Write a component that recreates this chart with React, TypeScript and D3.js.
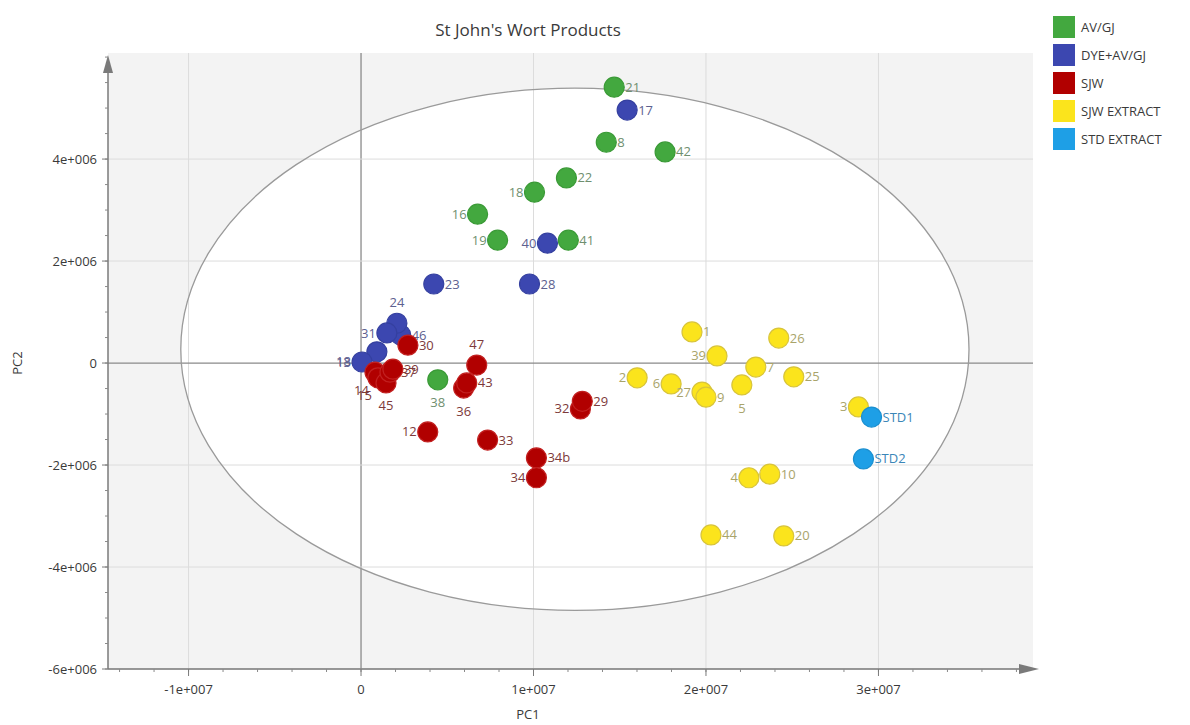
import React from "react";
import * as d3 from "d3";

// ---------- data ----------
const seriesNames = ["AV/GJ", "DYE+AV/GJ", "SJW", "SJW EXTRACT", "STD EXTRACT"];
const seriesFill = ["#43a83f", "#3c47b0", "#b10000", "#fbe41c", "#1e9fe6"];
const seriesStroke = ["#3a9a36", "#3540a0", "#c22020", "#d8c43a", "#1a8fd0"];
const seriesLabelColor = ["#6f8f6f", "#5d6190", "#7d3a3a", "#a9a46a", "#3b86b8"];

// each point: [label, PC1, PC2, label position]
const avgjPoints: [string, number, number, string][] = [
  ["21", 14.68e6, 5.41e6, "r"],
  ["8", 14.22e6, 4.33e6, "r"],
  ["42", 17.63e6, 4.14e6, "r"],
  ["22", 11.91e6, 3.63e6, "r"],
  ["18", 10.06e6, 3.35e6, "l"],
  ["16", 6.76e6, 2.92e6, "l"],
  ["19", 7.92e6, 2.41e6, "l"],
  ["41", 12.02e6, 2.41e6, "r"],
  ["38", 4.45e6, -0.33e6, "b"],
];
const dyePoints: [string, number, number, string][] = [
  ["17", 15.43e6, 4.96e6, "r"],
  ["40", 10.81e6, 2.35e6, "l"],
  ["23", 4.22e6, 1.55e6, "r"],
  ["28", 9.77e6, 1.55e6, "r"],
  ["46", 2.3e6, 0.55e6, "r"],
  ["24", 2.08e6, 0.78e6, "a"],
  ["31", 1.5e6, 0.59e6, "l"],
  ["18", 0.92e6, 0.22e6, "l2"],
  ["13", 0.06e6, 0.02e6, "l"],
];
const sjwPoints: [string, number, number, string][] = [
  ["30", 2.72e6, 0.35e6, "r"],
  ["47", 6.71e6, -0.04e6, "a"],
  ["36", 5.95e6, -0.49e6, "b"],
  ["43", 6.13e6, -0.39e6, "r"],
  ["12", 3.87e6, -1.35e6, "l"],
  ["33", 7.34e6, -1.51e6, "r"],
  ["32", 12.72e6, -0.9e6, "l"],
  ["29", 12.83e6, -0.75e6, "r"],
  ["34b", 10.17e6, -1.86e6, "r"],
  ["34", 10.17e6, -2.25e6, "l"],
  ["14", 0.81e6, -0.18e6, "bl"],
  ["15", 0.98e6, -0.29e6, "bl"],
  ["45", 1.45e6, -0.39e6, "b"],
  ["37", 1.68e6, -0.18e6, "r"],
  ["39", 1.85e6, -0.12e6, "r"],
];
const extractPoints: [string, number, number, string][] = [
  ["1", 19.19e6, 0.61e6, "r"],
  ["39", 20.64e6, 0.14e6, "l"],
  ["26", 24.22e6, 0.49e6, "r"],
  ["7", 22.89e6, -0.08e6, "r"],
  ["25", 25.09e6, -0.27e6, "r"],
  ["2", 16.01e6, -0.29e6, "l"],
  ["6", 17.98e6, -0.41e6, "l"],
  ["27", 19.77e6, -0.57e6, "l"],
  ["9", 20.0e6, -0.67e6, "r"],
  ["5", 22.08e6, -0.43e6, "b"],
  ["3", 28.84e6, -0.86e6, "l"],
  ["4", 22.49e6, -2.25e6, "l"],
  ["10", 23.7e6, -2.18e6, "r"],
  ["44", 20.29e6, -3.37e6, "r"],
  ["20", 24.51e6, -3.39e6, "r"],
];
const stdPoints: [string, number, number, string][] = [
  ["STD1", 29.6e6, -1.06e6, "r"],
  ["STD2", 29.13e6, -1.88e6, "r"],
];
const allSeries = [avgjPoints, dyePoints, sjwPoints, extractPoints, stdPoints];

const xTicks = [-1e7, 0, 1e7, 2e7, 3e7];
const xTickLabels = ["-1e+007", "0", "1e+007", "2e+007", "3e+007"];
const yTicks = [-6e6, -4e6, -2e6, 0, 2e6, 4e6];
const yTickLabels = ["-6e+006", "-4e+006", "-2e+006", "0", "2e+006", "4e+006"];

// confidence ellipse (centre and radii in PC units)
const ellipseCenter = [12.4e6, 0.27e6];
const ellipseRadii = [22.85e6, 5.12e6];

const title = "St John's Wort Products";
const xLabel = "PC1";
const yLabel = "PC2";

// ---------- chart ----------
const W = 1190;
const H = 725;
const left = 108;
const right = 1033;
const top = 53;
const bottom = 669;

export default function App() {
  const x = d3.scaleLinear().domain([-14.67e6, 38.96e6]).range([left, right]);
  const y = d3.scaleLinear().domain([-6e6, 6.08e6]).range([bottom, top]);
  const font = "'Open Sans', 'Noto Sans', sans-serif";
  const r = 10;

  const xMinor = d3.range(-14e6, 38.5e6, 2e6);
  const yMinor = d3.range(-6e6, 6.01e6, 0.5e6);

  const ecx = x(ellipseCenter[0]);
  const ecy = y(ellipseCenter[1]);
  const erx = x(ellipseCenter[0] + ellipseRadii[0]) - ecx;
  const ery = ecy - y(ellipseCenter[1] + ellipseRadii[1]);

  const labelPos = (px: number, py: number, pos: string) => {
    switch (pos) {
      case "l":
        return { x: px - 11, y: py, anchor: "end" };
      case "l2":
        return { x: px - 26, y: py + 10, anchor: "end" };
      case "a":
        return { x: px, y: py - 21, anchor: "middle" };
      case "b":
        return { x: px, y: py + 23, anchor: "middle" };
      case "bl":
        return { x: px - 6, y: py + 18, anchor: "end" };
      default:
        return { x: px + 11, y: py, anchor: "start" };
    }
  };

  return (
    <svg width={W} height={H} style={{ display: "block", position: "absolute", left: 0, top: 0 }}>
      <rect x={0} y={0} width={W} height={H} fill="#ffffff" />
      <text x={528} y={36} textAnchor="middle" fontFamily={font} fontSize={17} fill="#3a3a3a">
        {title}
      </text>
      {/* plot background */}
      <rect x={left} y={top} width={right - left} height={bottom - top} fill="#f3f3f3" />
      {/* ellipse interior */}
      <ellipse cx={ecx} cy={ecy} rx={erx} ry={ery} fill="#ffffff" />
      {/* grid */}
      {xTicks.map((t) => (
        <line key={"gx" + t} x1={x(t)} x2={x(t)} y1={top} y2={bottom}
          stroke={t === 0 ? "#8a8a8a" : "#dcdcdc"} strokeWidth={t === 0 ? 1.3 : 1} />
      ))}
      {yTicks.map((t) => (
        <line key={"gy" + t} x1={left} x2={right} y1={y(t)} y2={y(t)}
          stroke={t === 0 ? "#8a8a8a" : "#dcdcdc"} strokeWidth={t === 0 ? 1.3 : 1} />
      ))}
      <ellipse cx={ecx} cy={ecy} rx={erx} ry={ery} fill="none" stroke="#9a9a9a" strokeWidth={1.3} />

      {/* axes */}
      <line x1={left} x2={right} y1={bottom} y2={bottom} stroke="#7a7a7a" strokeWidth={1.5} />
      <path d={`M${right + 6},${bottom} L${right - 14},${bottom - 5} L${right - 14},${bottom + 5} Z`} fill="#7a7a7a" />
      <line x1={left} x2={left} y1={bottom} y2={top + 8} stroke="#7a7a7a" strokeWidth={1.5} />
      <path d={`M${left},${top + 2} L${left - 5},${top + 20} L${left + 5},${top + 20} Z`} fill="#7a7a7a" />
      {xMinor.map((t) => (
        <line key={"xm" + t} x1={x(t)} x2={x(t)} y1={bottom} y2={bottom + 3} stroke="#8a8a8a" />
      ))}
      {yMinor.map((t) => (
        <line key={"ym" + t} x1={left - 3} x2={left} y1={y(t)} y2={y(t)} stroke="#8a8a8a" />
      ))}
      {xTicks.map((t, i) => (
        <g key={"xt" + t}>
          <line x1={x(t)} x2={x(t)} y1={bottom} y2={bottom + 7} stroke="#7a7a7a" />
          <text x={x(t)} y={bottom + 25} textAnchor="middle" fontFamily={font} fontSize={13} fill="#3a3a3a">
            {xTickLabels[i]}
          </text>
        </g>
      ))}
      {yTicks.map((t, i) => (
        <g key={"yt" + t}>
          <line x1={left - 6} x2={left} y1={y(t)} y2={y(t)} stroke="#7a7a7a" />
          <text x={left - 11} y={y(t)} dy="0.35em" textAnchor="end" fontFamily={font} fontSize={13} fill="#3a3a3a">
            {yTickLabels[i]}
          </text>
        </g>
      ))}
      <text x={528} y={719} textAnchor="middle" fontFamily={font} fontSize={13} fill="#3a3a3a">
        {xLabel}
      </text>
      <text transform={`translate(22,${y(0)}) rotate(-90)`} textAnchor="middle" fontFamily={font} fontSize={13} fill="#3a3a3a">
        {yLabel}
      </text>

      {/* points */}
      {allSeries.map((pts, si) => (
        <g key={"s" + si}>
          {pts.map(([lab, vx, vy, pos], pi) => {
            const px = x(vx);
            const py = y(vy);
            const lp = labelPos(px, py, pos);
            return (
              <g key={"p" + si + "-" + pi}>
                <circle cx={px} cy={py} r={r} fill={seriesFill[si]} stroke={seriesStroke[si]} strokeWidth={1.2} />
                <text x={lp.x} y={lp.y} dy="0.35em" textAnchor={lp.anchor as any} fontFamily={font} fontSize={13} fill={seriesLabelColor[si]}>
                  {lab}
                </text>
              </g>
            );
          })}
        </g>
      ))}

      {/* legend */}
      {seriesNames.map((n, i) => (
        <g key={"lg" + i}>
          <rect x={1053} y={16 + i * 28} width={22} height={22} fill={seriesFill[i]} />
          <text x={1081} y={27 + i * 28} dy="0.35em" fontFamily={font} fontSize={13} fill="#3a3a3a">
            {n}
          </text>
        </g>
      ))}
    </svg>
  );
}
